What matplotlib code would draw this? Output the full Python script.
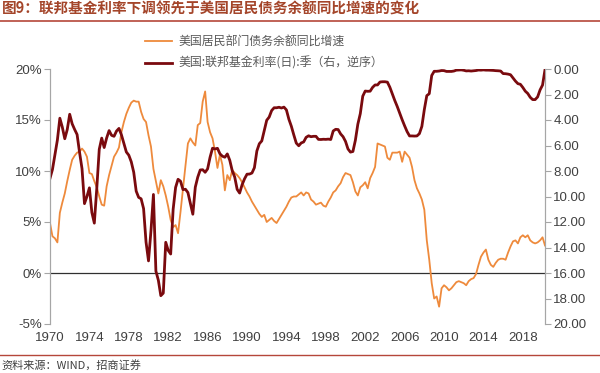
import matplotlib
matplotlib.use('Agg')
import matplotlib.pyplot as plt
import numpy as np

plt.rcParams['font.family'] = ['Liberation Sans', 'Noto Sans CJK SC', 'DejaVu Sans']
CJK = ['Noto Sans CJK SC', 'DejaVu Sans']

# quarterly, 1970Q1 .. 2020Q2
household_debt_yoy = [
    4.9, 3.6, 3.4, 3.0, 5.9, 6.9, 7.8, 9.0, 10.1, 11.1, 11.5, 11.8, 11.9, 12.2, 11.9, 11.4,
    9.8, 9.7, 9.0, 8.4, 7.5, 6.7, 6.6, 8.5, 9.6, 10.5, 11.4, 11.8, 12.3, 13.8, 14.8, 15.6,
    16.2, 16.7, 16.9, 16.8, 16.8, 15.8, 15.1, 14.8, 13.5, 12.4, 10.2, 9.0, 7.8, 9.1, 8.5, 7.6,
    6.5, 5.2, 4.5, 4.7, 3.9, 6.0, 8.3, 10.5, 12.7, 13.2, 12.8, 12.5, 14.5, 14.7, 16.8, 17.8,
    14.8, 13.8, 13.2, 11.9, 10.3, 11.6, 10.6, 8.1, 9.6, 9.1, 10.1, 9.8, 9.6, 9.3, 8.9, 8.4,
    7.9, 7.5, 7.0, 6.6, 6.2, 5.8, 5.5, 5.7, 5.0, 5.2, 5.4, 5.1, 4.9, 5.3, 5.7, 6.1,
    6.5, 7.0, 7.4, 7.5, 7.5, 7.7, 7.9, 7.6, 7.9, 7.8, 7.2, 7.0, 6.7, 6.8, 6.9, 6.6,
    6.5, 7.0, 7.4, 7.9, 8.1, 8.5, 8.8, 9.4, 9.8, 9.7, 9.6, 8.9, 8.0, 7.6, 8.4, 8.6,
    8.9, 8.3, 9.3, 9.8, 10.4, 12.7, 12.6, 12.5, 12.4, 11.3, 11.1, 11.8, 11.8, 11.8, 11.9, 10.9,
    11.9, 11.6, 11.3, 10.4, 9.1, 8.3, 7.8, 7.2, 6.2, 3.2, 1.3, -1.0, -2.5, -2.3, -3.3, -1.5,
    -1.2, -1.4, -1.7, -1.5, -1.2, -0.9, -0.8, -0.9, -1.0, -1.2, -0.8, -0.6, -0.5, -0.1, 0.8, 1.6,
    2.0, 2.3, 1.3, 0.8, 0.6, 1.0, 1.3, 1.4, 1.4, 1.3, 2.0, 2.6, 3.1, 3.2, 2.9, 3.5,
    3.7, 3.5, 3.7, 3.2, 3.0, 2.9, 3.0, 3.2, 3.5, 2.7,
]

fed_funds = [
    8.57, 7.88, 6.70, 5.57, 3.86, 4.56, 5.47, 4.75, 3.55, 4.30, 4.74, 5.14,
    6.54, 7.82, 10.56, 10.00, 9.32, 11.25, 12.09, 9.35, 6.30, 5.42, 6.16, 5.41,
    4.83, 5.20, 5.28, 4.87, 4.66, 5.16, 5.82, 6.51, 6.76, 7.28, 8.10, 9.58,
    10.07, 10.18, 10.95, 13.58, 15.05, 12.69, 9.84, 15.85, 16.57, 17.78, 17.58, 13.59,
    14.23, 14.51, 11.01, 9.29, 8.65, 8.80, 9.46, 9.43, 9.69, 10.56, 11.39, 9.27,
    8.48, 7.92, 7.90, 8.10, 7.83, 6.92, 6.21, 6.27, 6.22, 6.65, 6.84, 6.92,
    6.66, 7.16, 7.98, 8.47, 9.44, 9.73, 9.08, 8.61, 8.25, 8.24, 8.16, 7.74,
    6.43, 5.86, 5.64, 4.82, 4.02, 3.77, 3.26, 3.04, 3.04, 3.00, 3.06, 2.99,
    3.21, 3.94, 4.49, 5.17, 5.81, 6.02, 5.80, 5.72, 5.36, 5.24, 5.31, 5.28,
    5.28, 5.52, 5.53, 5.51, 5.52, 5.50, 5.53, 4.86, 4.73, 4.75, 5.09, 5.31,
    5.68, 6.27, 6.52, 6.47, 5.59, 4.33, 3.50, 2.13, 1.73, 1.75, 1.74, 1.44,
    1.25, 1.25, 1.02, 1.00, 1.00, 1.03, 1.43, 1.95, 2.47, 2.94, 3.46, 3.98,
    4.46, 4.91, 5.25, 5.25, 5.26, 5.25, 5.07, 4.50, 3.18, 2.09, 1.94, 0.51,
    0.18, 0.18, 0.16, 0.12, 0.13, 0.19, 0.19, 0.19, 0.16, 0.09, 0.08, 0.07,
    0.10, 0.15, 0.14, 0.16, 0.14, 0.12, 0.08, 0.09, 0.07, 0.09, 0.09, 0.10,
    0.11, 0.13, 0.14, 0.16, 0.36, 0.37, 0.40, 0.45, 0.70, 0.95, 1.15, 1.20,
    1.45, 1.74, 1.92, 2.22, 2.40, 2.40, 2.19, 1.64, 1.26, 0.06,
]

tick_years = [1970, 1974, 1978, 1982, 1986, 1990, 1994, 1998, 2002, 2006, 2010, 2014, 2018]
left_ticks = [-5, 0, 5, 10, 15, 20]
right_ticks = [0, 2, 4, 6, 8, 10, 12, 14, 16, 18, 20]

label_debt = '美国居民部门债务余额同比增速'
label_rate = '美国:联邦基金利率(日):季（右，逆序）'

x = 1970 + np.arange(len(fed_funds)) / 4.0

fig = plt.figure(figsize=(6, 3.73), dpi=100)
ax = fig.add_axes([50 / 600, 1 - 324 / 373, 495 / 600, 255 / 373])
ax2 = ax.twinx()

grey = '#404040'
spine_c = '#A6A6A6'

l1, = ax.plot(x, household_debt_yoy, color='#EE8A3C', lw=1.3, zorder=3)
ax.axhline(0, color='#303030', lw=0.9, zorder=2)
l2, = ax2.plot(x, fed_funds, color='#7A0A0E', lw=2.0)

ax.set_xlim(x[0], x[-1])
ax.set_ylim(-5, 20)
ax.set_yticks(left_ticks)
ax.set_yticklabels([f'{v}%' for v in left_ticks])
ax2.set_ylim(20, 0)
ax2.set_yticks(right_ticks)
ax2.set_yticklabels([f'{v:.2f}' for v in right_ticks])
ax.set_xticks(tick_years)
ax.set_xticklabels([str(y) for y in tick_years])

for a in (ax, ax2):
    a.spines['top'].set_visible(False)
    a.spines['bottom'].set_visible(False)
    a.spines['left'].set_color(spine_c)
    a.spines['right'].set_color(spine_c)
ax.tick_params(axis='y', colors=spine_c, labelcolor=grey, labelsize=9.5, length=4, pad=2)
ax2.tick_params(axis='y', colors=spine_c, labelcolor=grey, labelsize=9.5, length=4, pad=2)
ax.tick_params(axis='x', length=0, labelcolor=grey, labelsize=9.5, pad=6)

fig.legend([l1, l2], [label_debt, label_rate], loc='upper left',
           bbox_to_anchor=(140 / 600, 1 - 30 / 373), frameon=False,
           prop={'family': CJK, 'size': 8.6}, labelcolor='#595959',
           handlelength=2.3, handletextpad=0.5, labelspacing=0.75, borderaxespad=0)

fig.text(0.003, 1 - 9 / 373, '图9：联邦基金利率下调领先于美国居民债务余额同比增速的变化',
         family=CJK, fontsize=10.5, fontweight='bold', color='#A4452A', va='center', ha='left')
fig.add_artist(plt.Line2D([0, 1], [1 - 21 / 373, 1 - 21 / 373], color='#B5473A', lw=1.2))
fig.add_artist(plt.Line2D([0, 1], [1 - 355 / 373, 1 - 355 / 373], color='#B5473A', lw=1.0))
fig.text(0.003, 1 - 365 / 373, '资料来源：WIND，招商证券', family=CJK, fontsize=8,
         color='#404040', va='center', ha='left')

fig.savefig('out.png', dpi=100)
